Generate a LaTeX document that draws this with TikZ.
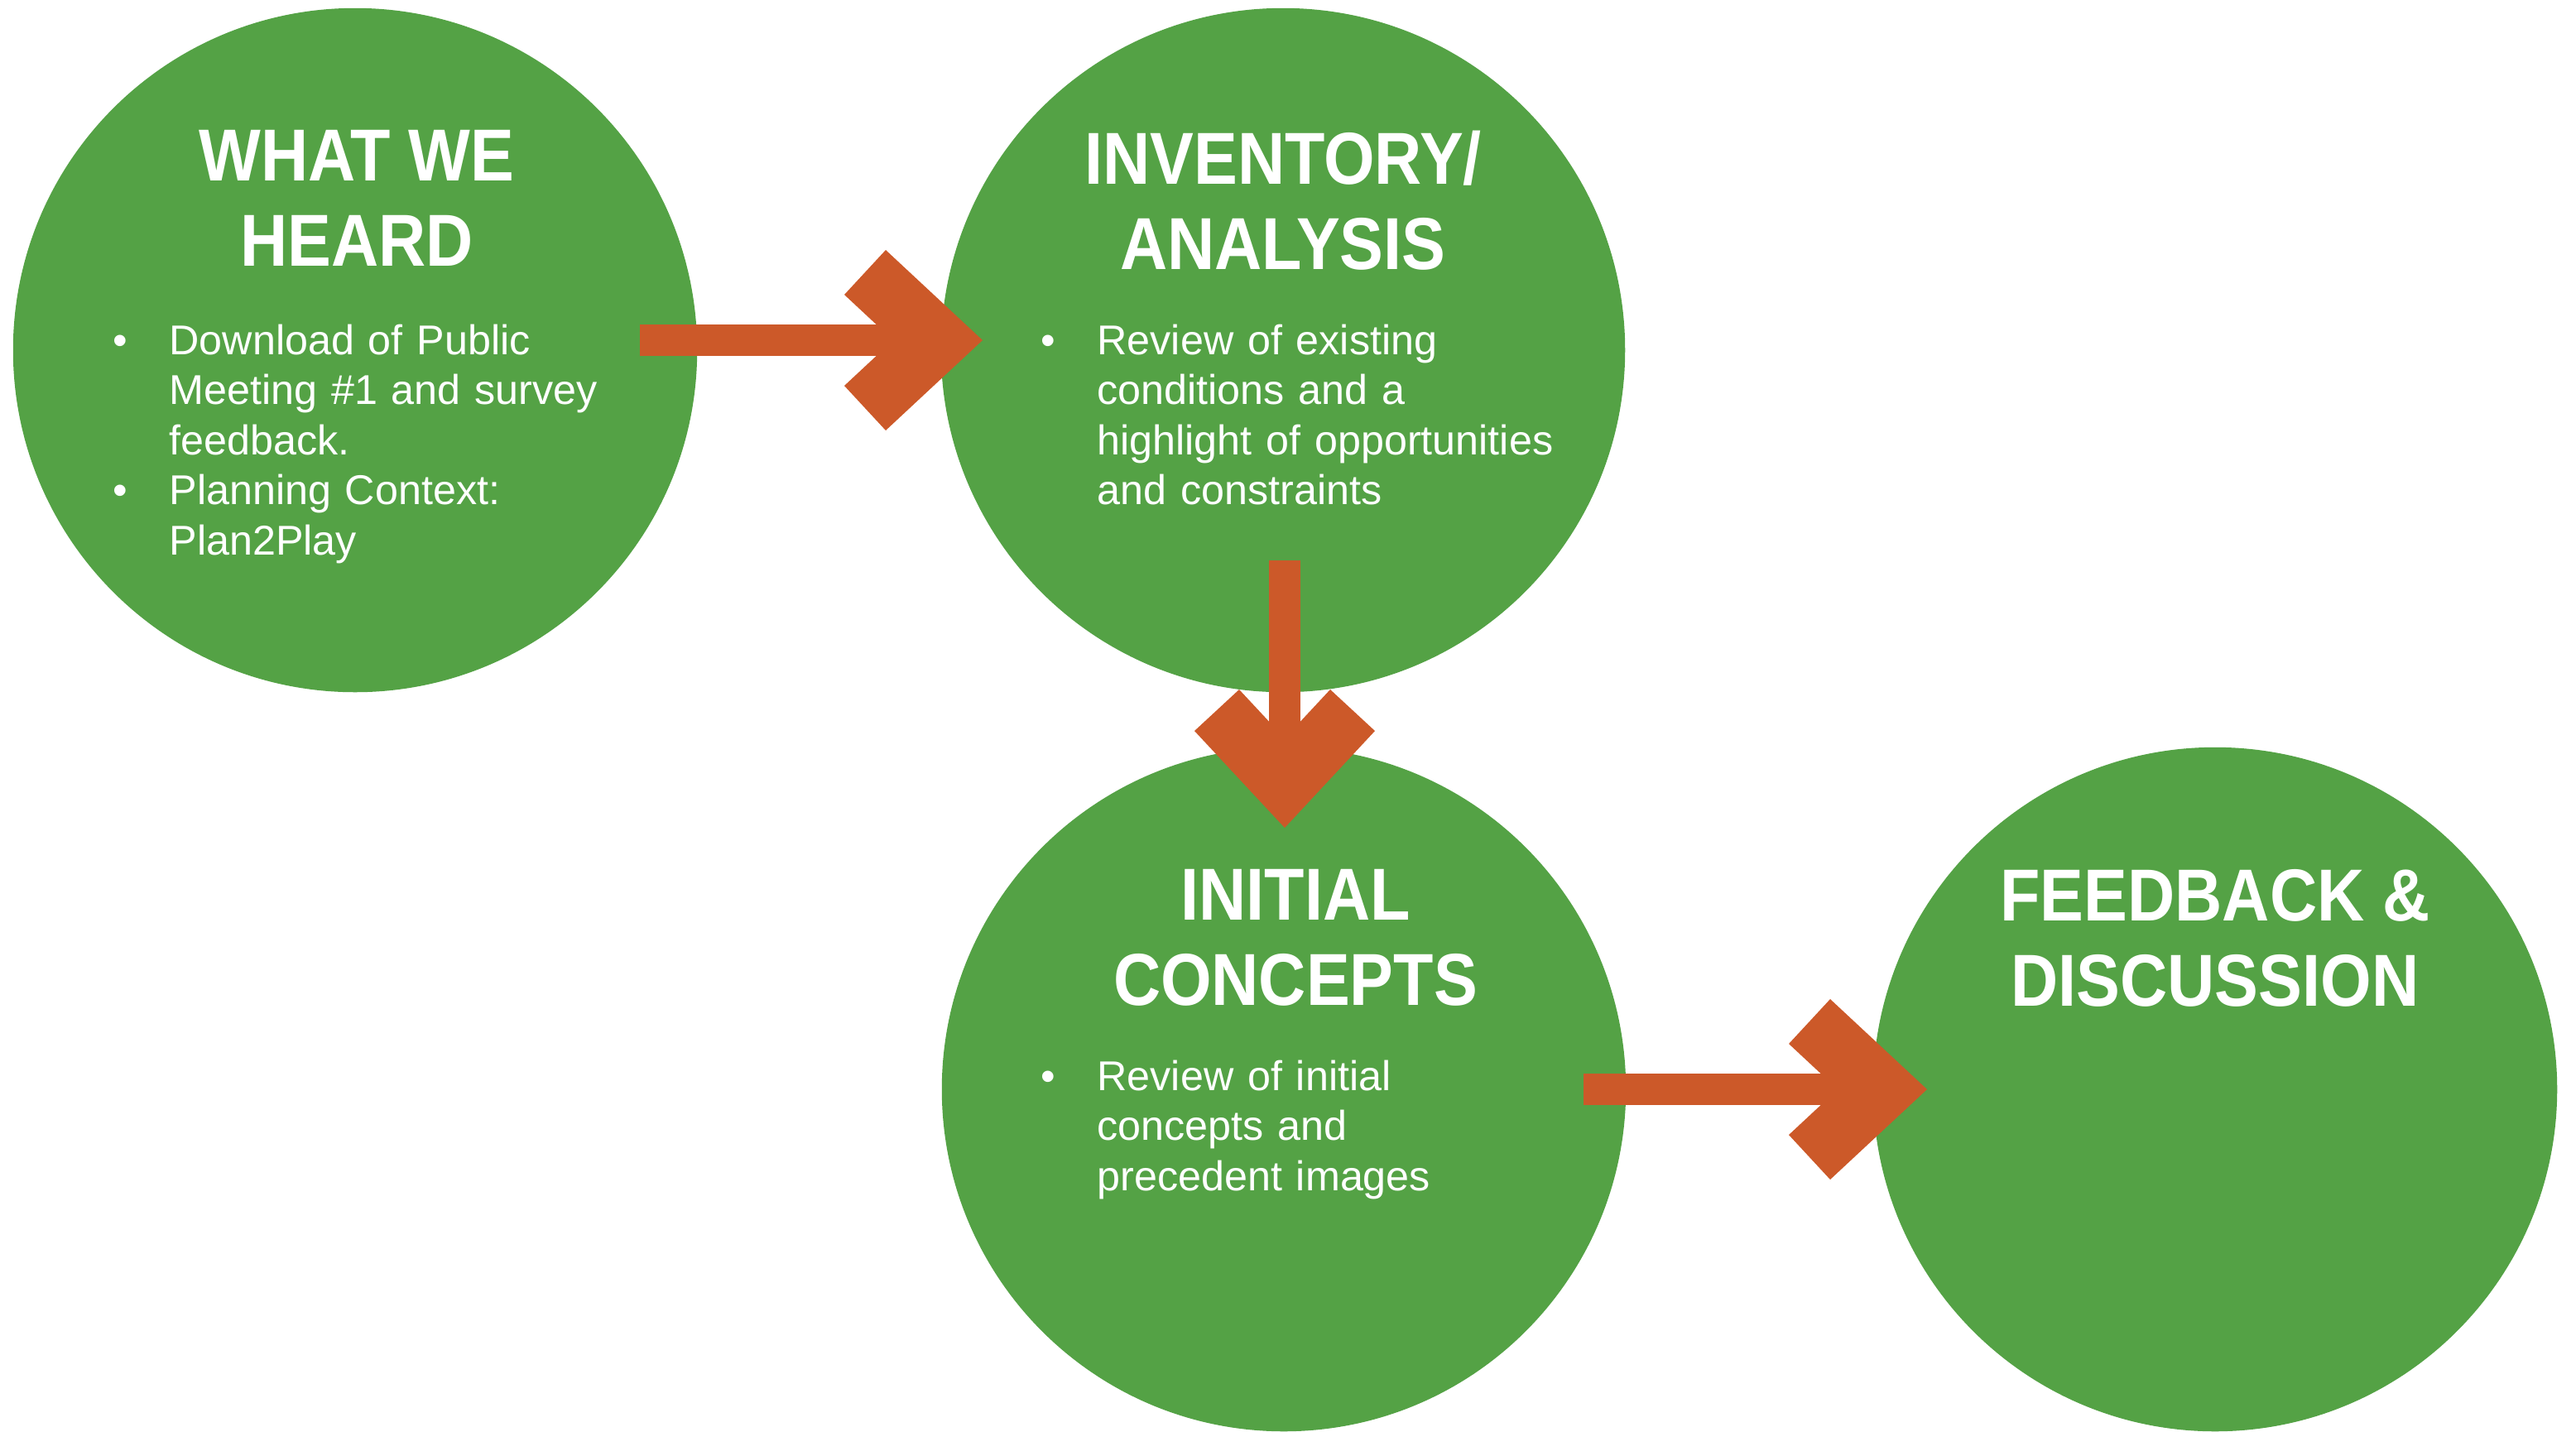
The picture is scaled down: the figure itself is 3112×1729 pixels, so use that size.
\documentclass[tikz,border=0pt]{standalone}
\usepackage{fontspec}
\setmainfont{Liberation Sans}
\newfontfamily\titlefont{Liberation Sans}[FakeStretch=0.89]
\usetikzlibrary{calc,positioning}
\definecolor{stagegreen}{RGB}{84,162,69}
\definecolor{arroworange}{RGB}{204,89,41}
\newcommand{\bitem}[1]{\par\noindent\hangindent=19.3pt\hangafter=1\makebox[19.3pt][l]{\textbullet}#1\par}
\newcommand{\bigarrow}[3]{%
  \draw[shaft] (#1) -- ($(#2)!26pt!(#1)$);
  \fill[arroworange, shift={(#2)}, rotate=#3] (0,0) -- (-117,-109) -- (-167,-55) -- (-108,0) -- (-167,55) -- (-117,109) -- cycle;
}

\begin{document}
\begin{tikzpicture}[x=0.01cm, y=-0.01cm,
		stage/.style={circle, fill=stagegreen, minimum size=8.26cm, inner sep=0pt},
		stagetitle/.style={anchor=north, align=center, text=white, inner sep=0pt, font=\titlefont\bfseries\fontsize{25.3}{29.3}\selectfont},
		stagenotes/.style={anchor=north west, text width=7cm, align=left, text=white, inner sep=0pt, font=\fontsize{14.3}{17.2}\selectfont},
		shaft/.style={draw=arroworange, line width=10.8pt}]
		\useasboundingbox (0,0) rectangle (3112,1729);
		\node[stage] (heard) at (429,423) {};
		\node[stage] (inventory) at (1550,423) {};
		\node[stage] (concepts) at (1551,1316) {};
		\node[stage] (feedback) at (2676,1316) {};
		\node[stagetitle] (heardtitle) at ($(heard)+(2,-266)$) {WHAT WE\\HEARD};
		\node[stagetitle] (inventorytitle) at ($(inventory)+(0,-266)$) {INVENTORY/\\ANALYSIS};
		\node[stagetitle] (conceptstitle) at ($(concepts)+(14,-266)$) {INITIAL\\CONCEPTS};
		\node[stagetitle] (feedbacktitle) at ($(feedback)+(0,-266)$) {FEEDBACK \&\\DISCUSSION};
		\node[stagenotes] (heardnotes) at ($(heard)+(-293,-56)$) {\bitem{Download of Public\newline Meeting \#1 and survey\newline feedback.}\bitem{Planning Context:\newline Plan2Play}};
		\node[stagenotes] (inventorynotes) at ($(inventory)+(-293,-56)$) {\bitem{Review of existing\newline conditions and a\newline highlight of opportunities\newline and constraints}};
		\node[stagenotes] (conceptsnotes) at ($(concepts)+(-294,-60)$) {\bitem{Review of initial\newline concepts and\newline precedent images}};
		\coordinate (a1from) at ($(heard)+(344,-12)$);
		\coordinate (a1to) at ($(inventory)+(-363,-12)$);
		\coordinate (a2from) at ($(inventory)+(2,254)$);
		\coordinate (a2to) at ($(concepts)+(1,-316)$);
		\coordinate (a3from) at ($(concepts)+(362,0)$);
		\coordinate (a3to) at ($(feedback)+(-348,0)$);
		\bigarrow{a1from}{a1to}{0}
		\bigarrow{a2from}{a2to}{-90}
		\bigarrow{a3from}{a3to}{0}
	\end{tikzpicture}
\end{document}
